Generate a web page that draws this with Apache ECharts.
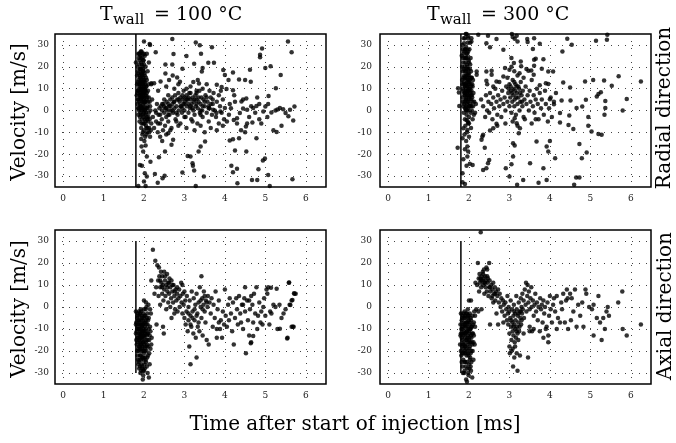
<!DOCTYPE html>
<html><head><meta charset="utf-8">
<script src="https://cdn.jsdelivr.net/npm/echarts@6/dist/echarts.min.js"></script>
<style>html,body{margin:0;padding:0;background:#fff}#c{width:676px;height:443px}</style>
</head><body><div id="c"></div>
<script>
// ---------- data ----------
const injectionTime = 1.8;
const xTicks = [0, 1, 2, 3, 4, 5, 6];
const yTicks = [-30, -20, -10, 0, 10, 20, 30];
const xRange = [-0.2, 6.5];
const yRange = [-35, 35];
const lineSpanTop = [-35, 35];
const lineSpanBottom = [-30, 30];
const panelTemps = ['100 °C', '300 °C'];
const rowLabels = ['Radial direction', 'Axial direction'];
const yName = 'Velocity [m/s]';
const xName = 'Time after start of injection [ms]';

// Radial velocity, T_wall = 100 °C
const radial100 = [
[1.80,22],[1.82,7],[1.83,12],[1.84,3],[1.85,18],[1.85,9],[1.86,26],[1.86,-2],[1.87,14],[1.87,5],[1.88,21],[1.88,10],[1.88,0],[1.89,16],[1.89,7],[1.89,-5],[1.90,26],[1.90,12],[1.90,3],[1.91,19],[1.91,8],[1.91,-1],[1.92,24],[1.92,15],[1.92,10],[1.92,5],[1.93,2],[1.93,-8],[1.93,17],[1.94,11],[1.94,6],[1.94,27],[1.95,13],[1.95,0],[1.95,21],[1.95,-4],[1.96,9],[1.96,4],[1.96,16],[1.96,-11],[1.97,26],[1.97,7],[1.97,12],[1.97,-2],[1.98,19],[1.98,2],[1.98,10],[1.98,-6],[1.99,14],[1.99,5],[1.99,23],[2.00,8],[2.00,-1],[2.00,11],[2.00,-9],[2.01,3],[2.01,17],[2.01,6],[2.02,25],[2.02,-4],[2.02,13],[2.03,9],[2.03,0],[2.03,-12],[2.04,20],[2.04,4],[2.05,7],[2.05,-7],[2.05,15],[2.06,1],[2.06,11],[2.07,-3],[2.07,26],[2.08,6],[2.08,-10],[2.09,18],[2.09,2],[2.10,-5],[2.10,9],[2.11,12],[2.12,-1],[2.12,22],[2.13,-8],[2.14,4],[2.15,-12],[2.15,30],[2.16,0],[2.18,12],[2.18,-6],[2.20,5],[1.93,-13],[1.97,-10],[2.01,-14],[2.06,-11],[1.86,1],[1.84,8],[1.90,-3],[1.94,-6],[1.99,-3],[2.04,-2],
[1.83,16],[1.84,20],[1.85,5],[1.85,13],[1.86,9],[1.86,17],[1.87,24],[1.87,1],[1.88,12],[1.88,4],[1.89,11],[1.89,23],[1.90,15],[1.90,6],[1.90,19],[1.91,2],[1.91,13],[1.91,25],[1.92,7],[1.92,19],[1.92,-2],[1.93,10],[1.93,14],[1.93,22],[1.94,1],[1.94,17],[1.94,8],[1.95,6],[1.95,16],[1.95,9],[1.96,12],[1.96,20],[1.96,1],[1.97,15],[1.97,4],[1.97,18],[1.98,8],[1.98,13],[1.98,23],[1.99,0],[1.99,9],[1.99,18],[2.00,4],[2.00,14],[2.00,21],[2.01,10],[2.01,-6],[2.01,1],[2.02,7],[2.02,16],[2.03,4],[2.03,12],[2.04,9],[2.04,-5],[2.05,11],[2.05,-1],[2.06,5],[2.06,-8],[2.07,8],[2.07,14],[2.08,1],[2.08,-4],[2.09,-8],[2.10,4],[2.11,-3],[2.12,6],[2.13,-10],[2.14,-4],[2.15,2],[2.17,-9],[2.00,26],[1.96,24],[1.92,27],[1.88,26],
[2.22,-3],[2.25,-8],[2.28,0],[2.30,-5],[2.32,3],[2.34,-10],[2.36,-2],[2.38,1],[2.40,-12],[2.40,-6],[2.42,2],[2.44,-4],[2.45,0],[2.47,-9],[2.48,3],[2.50,-1],[2.50,5],[2.52,-7],[2.53,1],[2.55,-3],[2.56,4],[2.58,0],[2.60,-5],[2.60,7],[2.62,2],[2.63,-2],[2.65,5],[2.66,0],[2.68,-8],[2.70,3],[2.70,6],[2.72,-1],[2.74,4],[2.75,1],[2.77,7],[2.78,-4],[2.80,2],[2.82,5],[2.83,-2],[2.85,8],[2.86,0],[2.88,4],[2.90,6],[2.90,-6],[2.92,2],[2.94,-1],[2.95,5],[2.97,3],[2.98,9],[3.00,0],[3.00,6],[3.02,4],[3.03,-3],[3.05,7],[3.06,2],[3.08,5],[3.10,-1],[3.10,3],[3.12,8],[3.14,1],[3.15,5],[3.17,-4],[3.18,3],[3.20,6],[3.22,0],[3.23,4],[3.25,-2],[3.27,7],[3.28,2],[3.30,5],[3.32,-6],[3.33,1],[3.35,4],[3.37,9],[3.38,-1],[3.40,3],[3.42,6],[3.44,0],[3.45,-3],[3.47,5],[3.50,2],[3.52,7],[3.55,-1],[3.57,4],[3.60,-5],[3.62,1],[3.65,6],[3.68,-2],[3.70,3],[3.72,8],[3.75,0],[3.78,-3],[3.80,4],[3.85,-6],[3.88,2],[3.92,-1],[3.95,5],[3.98,-4],
[2.45,3],[2.50,2],[2.55,1],[2.60,3],[2.65,2],[2.70,0],[2.75,4],[2.80,-1],[2.85,5],[2.90,2],[2.95,1],[3.00,3],[3.05,5],[3.10,6],[3.15,2],[3.20,1],[3.25,5],[3.30,3],[3.35,6],[3.40,0],[3.45,2],[3.50,4],[3.55,6],[3.60,2],[3.65,3],[3.70,5],[2.60,-2],[2.80,-5],[3.00,-3],[3.20,-5],[3.40,-2],[3.60,1],[2.95,7],[3.15,8],[3.30,8],[2.40,-2],[2.35,-6],[2.30,-1],
[2.35,9],[2.55,11],[2.62,14],[2.75,10],[2.85,12],[3.05,10],[3.15,11],[3.22,13],[3.30,9],[3.45,10],[3.55,12],[3.62,9],[3.85,7],[3.90,9],[2.45,-14],[2.55,-11],[2.65,-9],[2.85,-7],[3.05,-8],[3.25,-9],[3.40,-7],[3.50,-10],[3.65,-8],[3.80,-9],[3.95,-7],[4.05,-5],[4.10,-2],[4.15,1],[4.30,-6],[4.40,-9],[4.60,-3],[4.65,2],[4.75,-1],[4.85,3],[4.90,-6],[5.05,-3],[5.20,-9],[5.25,0],[5.30,0.5],[4.50,-10],[4.45,5],[4.55,-6],[4.85,-4],
[2.00,31.6],[2.14,30.4],[2.29,26.7],[2.70,32.7],[2.73,25.8],[3.28,31.1],[3.38,29.8],[3.41,26],[3.68,28.9],[3.05,24.9],[3.59,21.8],[3.73,21.8],[2.53,21.1],[2.70,21.1],[3.24,21.4],[2.95,19.1],[3.45,19.4],[3.43,17.9],[3.96,18.5],[4.00,16.2],[4.20,17.4],[4.87,25.5],[4.87,24.4],[4.92,28.4],[5.00,19.5],[5.13,20.2],[5.56,31.6],[5.65,26.6],[5.38,16.2],[4.62,18.6],[4.35,14.2],[4.50,13.9],[4.64,13.1],[4.09,13.9],[2.53,16.9],[2.71,16],[2.82,15.1],[2.89,13.1],[2.41,13.3],[2.25,12.5],[2.18,12.5],[3.33,13.9],[3.36,12.4],[3.80,11.8],[3.92,10.8],[4.04,9.8],[4.20,9.3],[4.23,7],[5.26,10.2],[4.80,6],[5.08,6.6],[4.53,5.5],[4.25,4],
[1.94,-16.5],[2.04,-16],[1.98,-18.8],[2.07,-21],[1.90,-24.9],[1.95,-25.3],[2.16,-23.4],[2.02,-28.7],[2.07,-30.2],[2.00,-32.5],[1.86,-34.5],[2.04,-34.5],[2.27,-29],[2.34,-33],[2.46,-31],[2.51,-29.9],[2.37,-21.4],[2.52,-18.8],[2.68,-15.7],[2.60,-10.4],[2.72,-13.4],[2.95,-28.4],[3.08,-20.8],[3.15,-21.1],[3.20,-24.1],[3.21,-25.3],[3.24,-27.5],[3.28,-34.5],[3.35,-18.8],[3.40,-16.5],[3.48,-30.2],[3.51,-14.2],[4.12,-13.7],[4.20,-13.1],[4.25,-18.3],[4.35,-12.7],[4.16,-25.3],[4.20,-28.2],[4.30,-26.7],[4.31,-33.3],[4.53,-18.8],[4.67,-31.8],[4.80,-31.8],[4.83,-26.9],[4.94,-22.9],[4.99,-22],[5.07,-29.5],[5.11,-34.5],[5.67,-31.5],[4.78,-12.7],[4.52,-7.3],[4.68,-5.5],[5.28,-9.8],[5.40,-7],[5.50,-1.2],[5.57,-2.6],[5.69,-4.6],[5.72,1.8],[5.61,0.3],[5.44,0.6],[5.36,1.1],[5.07,3],[5.00,1.8],[5.15,-0.9],[4.95,-0.5],[4.78,2.1],[4.70,1.1],[4.55,0.3],[4.45,0.9],[4.37,-1.2],[4.30,-3.5],[4.22,-4.3],[4.41,4.1],[4.12,3],[4.00,1.1],[3.89,-0.5],[3.79,-1.2],[3.71,0.3]
];

// Radial velocity, T_wall = 300 °C
const radial300 = [
[1.82,25],[1.83,14],[1.84,6],[1.84,30],[1.85,18],[1.85,10],[1.86,2],[1.86,22],[1.87,13],[1.87,-1],[1.88,27],[1.88,8],[1.88,16],[1.89,4],[1.89,20],[1.90,11],[1.90,33],[1.90,-4],[1.91,15],[1.91,7],[1.92,24],[1.92,1],[1.92,12],[1.93,18],[1.93,5],[1.93,29],[1.94,9],[1.94,14],[1.94,-2],[1.95,21],[1.95,3],[1.95,11],[1.96,26],[1.96,7],[1.96,16],[1.97,0],[1.97,13],[1.97,31],[1.98,9],[1.98,19],[1.98,4],[1.99,23],[1.99,12],[2.00,6],[2.00,17],[2.00,-3],[2.01,10],[2.01,28],[2.02,2],[2.02,14],[2.03,8],[2.03,21],[2.04,-1],[2.04,12],[2.05,5],[2.05,18],[2.06,9],[2.07,0],[2.07,15],[2.08,6],[2.09,-4],[2.09,11],[2.10,2],[2.11,8],[2.12,-2],[2.13,4],[2.15,-1],[2.17,3],[1.91,-7],[1.95,-10],[1.98,-6],[1.93,-14],[2.00,-12],[1.96,-21],[1.89,-11],[1.92,35],[1.98,34],[1.87,33],[2.03,31],[2.06,33],[1.85,28],[1.93,0],[1.97,-5],[2.05,-8],
[1.83,20],[1.84,12],[1.85,24],[1.85,4],[1.86,15],[1.86,9],[1.87,19],[1.87,26],[1.88,3],[1.88,12],[1.89,7],[1.89,24],[1.89,15],[1.90,1],[1.90,18],[1.90,8],[1.91,22],[1.91,11],[1.91,28],[1.92,5],[1.92,16],[1.92,9],[1.93,12],[1.93,24],[1.93,2],[1.94,19],[1.94,6],[1.94,26],[1.95,8],[1.95,15],[1.95,0],[1.96,11],[1.96,20],[1.96,4],[1.97,9],[1.97,17],[1.97,24],[1.98,1],[1.98,14],[1.98,27],[1.99,7],[1.99,16],[2.00,10],[2.00,2],[2.00,22],[2.01,13],[2.01,5],[2.02,19],[2.02,9],[2.03,3],[2.03,15],[2.04,7],[2.04,24],[2.05,11],[2.06,2],[2.06,15],[2.07,7],[2.08,12],[2.09,4],[2.10,14],
[1.72,-17],[1.73,10.2],[1.75,8.2],[1.76,2.1],[1.86,-8.1],[1.84,-12.7],[1.90,-17.7],[1.96,-16.5],[1.98,-18.8],[1.94,-25.3],[1.86,-22.3],[1.84,-28.7],[1.90,-33.6],[1.84,-32.8],[2.02,-24.4],[2.09,-24.9],[1.96,-8.9],[2.00,-5.8],[1.94,-4.3],[1.94,35],[1.98,33],[2.06,31.6],[1.88,30.8],[1.90,27.8],[1.96,27.8],
[2.23,34.7],[2.47,34.2],[2.68,32.7],[2.43,30.8],[2.52,28.9],[2.85,27.8],[3.06,35],[3.08,33.6],[3.13,32.8],[3.18,34.2],[3.20,31.6],[3.24,35.4],[3.44,32.7],[3.45,31.3],[3.61,33.1],[3.58,28.1],[3.75,30.5],[4.43,32.8],[4.54,30.1],[4.31,27],[5.14,31.9],[5.41,32.4],[5.42,34.7],[3.61,23.2],[3.65,23.7],[3.84,23.5],[3.28,22.4],[3.05,24],[3.11,21.7],[3.29,20.2],[3.00,18.6],[2.89,19.4],[2.56,18.2],[2.56,16.3],[2.43,17.9],[2.19,17.9],[2.19,16.3],[2.43,13.6],[2.68,13.3],[2.85,15.6],[3.47,18.2],[3.54,18.3],[3.61,20.5],[3.60,16.3],[3.80,19.1],[3.96,17.9],[4.08,17.9],[3.75,11.5],[3.90,12.5],[3.96,12.1],[4.33,12.8],[4.50,10.5],[4.87,13.3],[5.07,14],[5.34,13.7],[5.70,15.7],[6.25,13.3],[5.53,11.3],[5.26,8.4],[5.16,6.4],[5.20,7.5],[4.89,4.9],[4.51,4.6],[4.80,1.8],[4.66,1.1],[5.37,4.3],[5.90,5.3],[5.80,0],[5.37,1.1],[5.35,-2],[4.95,-3],[4.48,-2.3],[4.25,-1.2],[4.10,2.9],[4.00,5.2],[4.29,4.6],[4.95,-7],[5.20,-10.7],[5.03,-9.6],[5.28,-11.1],[4.73,-15.3],[4.79,-21.8],[4.91,-19.2],[4.65,-30.7],[4.73,-30.7],[4.60,-34],[4.58,-8.5],[4.46,-6.6],[4.25,-5.5],[4.13,-21.8],[3.92,-16.5],[3.96,-18.8],[4.00,-14],[3.92,-31.8],[3.84,-26.4],[3.72,-33],[3.67,-14.2],[3.51,-24.1],[3.34,-31.8],[3.19,-34],[3.09,-21.1],[3.05,-24.6],[3.00,-30.2],[2.91,-26.4],[3.09,-15],[3.13,-16],[3.23,-10.4],[3.26,-8.1],[3.18,-5.8],[3.13,-3.5],[2.50,-22.6],[2.43,-26.4],[2.47,-24.1],[2.39,-17],[2.35,-27.2],[2.31,-13.4],[2.33,-11.9],[2.35,-11.1],[2.52,-9.2],[2.60,-8.1],[2.68,-6.1],
[2.30,5],[2.35,2],[2.40,-3],[2.42,7],[2.45,0],[2.48,4],[2.50,-1],[2.52,8],[2.55,3],[2.58,-4],[2.60,6],[2.62,1],[2.65,10],[2.68,4],[2.70,-2],[2.72,7],[2.75,2],[2.78,5],[2.80,-3],[2.82,9],[2.85,3],[2.88,6],[2.90,0],[2.92,11],[2.95,4],[2.97,8],[3.00,2],[3.00,12],[3.02,6],[3.04,9],[3.05,-1],[3.07,4],[3.08,14],[3.10,7],[3.10,10],[3.12,2],[3.13,5],[3.15,12],[3.16,-2],[3.18,8],[3.20,3],[3.20,16],[3.22,6],[3.24,10],[3.25,0],[3.27,4],[3.28,13],[3.30,7],[3.32,2],[3.33,9],[3.35,-3],[3.37,5],[3.40,11],[3.42,3],[3.45,7],[3.48,0],[3.50,9],[3.52,4],[3.55,14],[3.58,2],[3.60,7],[3.62,-1],[3.65,5],[3.68,10],[3.70,3],[3.72,-4],[3.75,8],[3.78,1],[3.80,5],[3.85,-2],[3.88,9],[3.90,3],[3.95,-5],[3.98,1],[4.02,6],[4.05,-3],[4.10,4],[4.15,8],[3.05,20],[3.12,18],[2.95,15],[3.25,17],[3.35,15],[3.42,19],[2.75,13],[2.60,11],[2.45,12],[2.70,-7],[2.90,-6],[3.08,-5],[3.20,-7],[3.38,-4],[3.55,-6],[3.65,-4],
[2.98,10],[3.03,11],[3.06,8],[3.14,9],[3.17,6],[3.22,11],[3.26,8],[3.31,4],[3.12,13],[3.18,11]
];

// Axial velocity, T_wall = 100 °C
const axial100 = [
[1.80,-2],[1.80,-12],[1.81,-7],[1.82,-17],[1.83,-5],[1.83,-10],[1.84,-22],[1.84,-14],[1.85,-8],[1.85,-3],[1.86,-19],[1.86,-12],[1.87,-25],[1.87,-6],[1.88,-15],[1.88,-10],[1.88,-28],[1.89,-4],[1.89,-18],[1.90,-12],[1.90,-8],[1.90,-22],[1.91,-14],[1.91,-30],[1.92,-6],[1.92,-17],[1.92,-11],[1.93,-24],[1.93,-2],[1.93,-13],[1.94,-9],[1.94,-20],[1.95,-15],[1.95,-27],[1.95,-5],[1.96,-11],[1.96,-18],[1.97,-8],[1.97,-23],[1.97,-33],[1.98,-13],[1.98,-3],[1.98,-29],[1.99,-16],[1.99,-10],[2.00,-21],[2.00,-7],[2.00,-1],[2.01,-14],[2.01,-26],[2.02,-9],[2.02,-18],[2.03,-4],[2.03,-12],[2.04,-24],[2.04,-16],[2.05,-6],[2.05,-10],[2.06,-20],[2.06,0],[2.07,-13],[2.07,-27],[2.08,-3],[2.08,-17],[2.09,-8],[2.10,-22],[2.10,-12],[2.11,1],[2.12,-5],[2.12,-32],[2.13,-15],[2.14,-26],[2.15,-9],[2.16,-19],[2.17,-3],[2.18,-17],[2.00,3],[2.05,2],[1.98,-31],[1.93,-29],[2.09,-30],[1.86,-26],[2.02,-28],
[1.80,-8],[1.81,-15],[1.82,-11],[1.83,-20],[1.84,-4],[1.84,-9],[1.85,-16],[1.85,-24],[1.86,-6],[1.86,-14],[1.87,-10],[1.87,-20],[1.88,-2],[1.88,-18],[1.89,-13],[1.89,-7],[1.89,-24],[1.90,-16],[1.90,-3],[1.90,-27],[1.91,-10],[1.91,-19],[1.92,-14],[1.92,-22],[1.92,-1],[1.93,-8],[1.93,-17],[1.94,-12],[1.94,-26],[1.94,-4],[1.95,-19],[1.95,-9],[1.96,-14],[1.96,-23],[1.96,-6],[1.97,-11],[1.97,-16],[1.97,-28],[1.98,-8],[1.98,-20],[1.99,-13],[1.99,-24],[1.99,-5],[2.00,-11],[2.00,-17],[2.00,-29],[2.01,-4],[2.01,-20],[2.02,-13],[2.02,-23],[2.03,-7],[2.03,-19],[2.04,-11],[2.04,-1],[2.05,-15],[2.05,-25],[2.06,-8],[2.07,-18],[2.07,-5],[2.08,-12],[2.08,-23],[2.09,-15],[2.10,-6],[2.11,-18],[2.12,-10],[2.13,-21],[2.14,-13],[2.15,-1],[2.16,-11],[2.19,-14],
[2.18,12],[2.22,26],[2.26,6],[2.28,21],[2.30,9],[2.31,-8],[2.33,19],[2.35,12],[2.36,5],[2.37,18],[2.38,14],[2.40,9],[2.40,1],[2.42,16],[2.43,11],[2.45,6],[2.45,14],[2.47,-9],[2.47,10],[2.48,3],[2.49,-12],[2.50,16],[2.50,8],[2.52,12],[2.53,5],[2.55,10],[2.55,-1],[2.57,15],[2.58,7],[2.60,11],[2.60,2],[2.62,6],[2.63,13],[2.65,9],[2.65,0],[2.67,4],[2.68,12],[2.70,7],[2.72,2],[2.73,10],[2.75,5],[2.77,-1],[2.78,8],[2.80,3],[2.82,6],[2.83,-2],[2.85,4],[2.87,8],[2.88,0],[2.90,5],[2.92,11],[2.93,2],[2.95,-3],[2.96,6],[2.98,1],[3.00,-5],[3.02,3],[3.03,-8],[3.05,-2],[3.06,5],[3.08,-11],[3.10,0],[3.10,-6],[3.12,-18],[3.13,3],[3.15,-4],[3.15,-26],[3.17,-9],[3.18,7],[3.20,-2],[3.22,-12],[3.23,4],[3.25,-6],[3.27,1],[3.28,-14],[3.30,-23],[3.30,6],[3.32,-3],[3.33,-9],[3.35,2],[3.37,-11],[3.38,9],[3.40,0],[3.42,-5],[3.42,14],[3.44,4],[3.45,-13],[3.47,1],[3.48,7],[3.50,-2],[3.52,-7],[3.53,3],[3.55,-15],[3.57,0],[3.58,5],[3.60,-17],[3.62,2],[3.65,-3],[3.67,4],[3.70,-9],[3.72,1],[3.75,-5],[3.77,7],[3.80,-14],[3.82,-1],[3.85,3],[3.88,-10],[3.90,-6],[3.93,-14],[3.95,-2],[3.98,-8],[4.00,8],[4.02,-4],[4.05,-9],[4.08,1],[4.10,-6],[4.12,4],[4.15,-3],[4.18,-11],[4.20,2],[4.22,-17],[4.25,-5],[4.28,4],[4.30,-1],[4.32,-8],[4.35,5],[4.38,-3],[4.40,-7],[4.42,1],[4.45,-10],[4.48,4],[4.50,9],[4.50,-2],[4.52,-21],[4.55,3],[4.57,-6],[4.60,-13],[4.62,-1],[4.65,-16],[4.65,5],[4.68,1],[4.70,-7],[4.72,6],[4.75,-3],[4.78,9],[4.80,-10],[4.82,-4],[4.85,2],[4.88,-7],[4.90,-2],[4.93,-8],[4.95,0],[4.97,4],[5.00,-4],[5.03,8],[5.05,6],[5.07,9],[5.10,-8],[5.12,-2],[5.20,1],[5.30,-10],[5.35,1],[5.40,-5],[5.45,-3],[5.50,-1],[5.55,-14],[5.58,11],[5.60,1],[5.65,3],[5.68,-9],[5.70,-9],[5.72,6],[5.75,6],[5.15,-3],[5.25,0],[2.75,-3],[2.68,-5],[3.00,7],[2.95,10],[3.80,-10],[3.85,-7],[4.45,1],[4.60,3],[5.59,11.1],[5.71,6.2],[5.67,3.2],[5.62,0.9],[5.54,-14.3],[5.65,-9],[5.36,-9.9],[4.64,-16.5],[4.70,-13.2],[5.28,8.3],[5.14,8.8],
[2.40,12],[2.45,9],[2.52,14],[2.58,9],[2.62,11],[2.70,10],[2.76,7],[2.82,9],[3.10,-3],[3.15,-8],[3.20,-5],[3.25,-1],[3.30,-4],[3.35,-7],[3.40,3],[3.45,-1],[3.50,5],[3.55,2]
];

// Axial velocity, T_wall = 300 °C
const axial300 = [
[1.78,-17],[1.79,-8],[1.80,-12],[1.80,-3],[1.81,-22],[1.82,-6],[1.82,-14],[1.83,-10],[1.84,-27],[1.84,-18],[1.85,-4],[1.85,-9],[1.86,-13],[1.86,-24],[1.87,-7],[1.87,-16],[1.88,-30],[1.88,-11],[1.89,-2],[1.89,-20],[1.90,-8],[1.90,-14],[1.91,-25],[1.91,-5],[1.92,-12],[1.92,-18],[1.93,-33],[1.93,-9],[1.94,-15],[1.94,-22],[1.95,-3],[1.95,-11],[1.96,-28],[1.96,-7],[1.97,-17],[1.97,-13],[1.98,-21],[1.98,-5],[1.99,-10],[1.99,-31],[2.00,-15],[2.00,-26],[2.01,-8],[2.01,-19],[2.02,-12],[2.02,-3],[2.03,-23],[2.03,-16],[2.04,-10],[2.05,-29],[2.05,-6],[2.06,-14],[2.06,-20],[2.07,-9],[2.08,-32],[2.08,-17],[2.09,-4],[2.10,-12],[2.11,-16],[2.12,-7],[2.13,-2],[2.00,3],[2.05,3],[1.95,-34],[1.89,-29],[2.02,-24],[1.97,-1],[1.86,-19],[2.04,-27],
[1.79,-13],[1.80,-20],[1.81,-10],[1.82,-25],[1.83,-15],[1.83,-5],[1.84,-12],[1.84,-21],[1.85,-17],[1.85,-30],[1.86,-8],[1.86,-3],[1.87,-21],[1.87,-12],[1.88,-5],[1.88,-17],[1.89,-9],[1.89,-25],[1.90,-18],[1.90,-4],[1.91,-12],[1.91,-21],[1.92,-7],[1.92,-27],[1.93,-15],[1.93,-3],[1.94,-11],[1.94,-19],[1.95,-7],[1.95,-25],[1.96,-14],[1.96,-20],[1.97,-4],[1.97,-9],[1.98,-16],[1.98,-30],[1.99,-6],[1.99,-22],[2.00,-11],[2.00,-4],[2.01,-14],[2.01,-28],[2.02,-7],[2.02,-18],[2.03,-10],[2.04,-21],[2.04,-5],[2.05,-13],[2.06,-25],[2.06,-9],[2.07,-16],[2.08,-12],[2.09,-20],[2.10,-8],[2.11,-24],[2.12,-13],[2.14,-17],[2.15,-9],
[2.15,-4],[2.16,11],[2.18,-1],[2.20,10],[2.22,20],[2.23,-2],[2.24,13],[2.25,7],[2.26,15],[2.27,11],[2.28,13],[2.29,34],[2.30,9],[2.31,-1],[2.31,14],[2.33,12],[2.34,16],[2.35,10],[2.36,13],[2.37,17],[2.38,11],[2.38,6],[2.40,14],[2.41,9],[2.42,12],[2.43,18],[2.44,7],[2.45,17],[2.46,11],[2.47,13],[2.48,5],[2.50,20],[2.50,9],[2.51,12],[2.52,-8],[2.53,7],[2.55,10],[2.56,4],[2.58,8],[2.60,11],[2.60,2],[2.62,6],[2.64,9],[2.65,3],[2.67,7],[2.68,-3],[2.70,5],[2.72,8],[2.72,-8],[2.74,2],[2.76,6],[2.78,0],[2.80,4],[2.82,-2],[2.84,3],[2.86,1],[2.88,-4],[2.90,2],[2.92,-1],[2.94,-6],[2.95,5],[2.96,-3],
[2.97,-8],[2.98,0],[3.00,-2],[3.00,-12],[3.01,-21],[3.02,-5],[3.03,3],[3.04,-9],[3.05,-15],[3.05,-20],[3.06,-1],[3.07,-7],[3.08,-11],[3.09,-27],[3.10,-4],[3.10,-13],[3.11,1],[3.12,-8],[3.13,-16],[3.14,-3],[3.15,-10],[3.15,-6],[3.16,-14],[3.17,5],[3.18,-21],[3.18,-1],[3.19,-9],[3.20,-12],[3.20,-29],[3.21,-4],[3.22,-7],[3.23,2],[3.24,-11],[3.25,-2],[3.26,-22],[3.27,-5],[3.28,4],[3.29,-8],[3.30,0],[3.31,-3],[3.32,6],[3.33,-1],[3.35,3],[3.36,-5],[3.38,8],[3.40,1],[3.41,11],[3.42,-2],[3.44,5],[3.45,10],[3.46,-23],[3.47,2],[3.48,7],[3.50,-9],[3.50,-1],[3.52,4],[3.54,9],[3.55,0],[3.56,-11],[3.58,3],[3.60,-4],[3.62,1],[3.64,6],[3.66,-2],[3.68,2],[3.70,-6],[3.72,0],[3.75,-11],[3.76,4],[3.78,-1],[3.80,1],[3.82,-7],[3.84,-14],[3.84,3],[3.86,-3],[3.88,0],[3.90,-10],[3.92,-9],[3.94,2],[3.96,-16],[3.96,-13],[3.98,-4],[4.00,5],[4.02,-1],[4.05,-7],[4.08,1],[4.10,4],[4.13,-2],[4.17,5],[4.17,-10],[4.20,-5],[4.25,-7],[4.28,2],[4.30,-1],[4.33,6],[4.37,-7],[4.40,3],[4.42,8],[4.44,4],[4.45,-10],[4.50,6],[4.52,-6],[4.54,4],[4.58,-2],[4.62,8],[4.66,-9],[4.70,1],[4.75,-4],[4.80,2],[4.83,-9],[4.88,8],[4.90,6],[4.97,0],[5.04,-1],[5.08,-13],[5.08,1],[5.16,-5],[5.20,5],[5.24,-7],[5.28,-15],[5.32,-5],[5.36,-10],[5.40,-2],[5.43,0],[5.46,-4],[5.69,2],[5.79,7],[5.80,-10],[5.90,-13],[6.25,-8],[2.85,-7],[3.00,-18],[3.12,-23],[3.08,-19],[3.22,-15],[3.14,-18],[3.60,-10],[3.50,-11],[3.35,-12],
[2.30,12],[2.35,15],[2.40,11],[2.45,14],[2.52,9],[2.58,5],[2.65,6],[3.05,-6],[3.10,-9],[3.12,-2],[3.18,-11],[3.22,-3],[3.25,-9],[3.28,-2],[3.30,-6]
];

// ---------- chart ----------
const panels = [
  { data: radial100, left: 55,  top: 34,  height: 153, span: lineSpanTop,    labMargin: 6 },
  { data: radial300, left: 380, top: 34,  height: 153, span: lineSpanTop,    labMargin: 8 },
  { data: axial100,  left: 55,  top: 230, height: 154, span: lineSpanBottom, labMargin: 6 },
  { data: axial300,  left: 380, top: 230, height: 154, span: lineSpanBottom, labMargin: 8 }
];
const tickFont = { fontFamily: 'DejaVu Serif', fontSize: 9, color: '#222' };
const dotted = { color: '#444', width: 1, type: [1, 6] };
const serif = '"DejaVu Serif"';

function txt(x, y, text, size, extra) {
  return Object.assign({ type: 'text', x: x, y: y,
    style: { text: text, font: size + 'px ' + serif, fill: '#000', verticalAlign: 'middle', textVerticalAlign: 'middle' } }, extra || {});
}
function ctxt(x, y, text, size, rot) {
  const t = txt(x, y, text, size, rot ? { rotation: rot } : null);
  t.style.align = 'center'; t.style.textAlign = 'center';
  return t;
}

const option = {
  animation: false,
  backgroundColor: '#fff',
  grid: panels.map(p => ({ left: p.left, top: p.top, width: 271, height: p.height,
    show: true, borderColor: '#000', borderWidth: 1.5, backgroundColor: 'transparent', containLabel: false })),
  xAxis: panels.map((p, i) => ({
    type: 'value', gridIndex: i, min: xRange[0], max: xRange[1], splitNumber: 7,
    axisLine: { show: false }, axisTick: { show: false },
    axisLabel: Object.assign({ margin: 7, showMinLabel: false, showMaxLabel: false,
      formatter: v => xTicks.includes(Math.round(v * 1000) / 1000) ? String(v) : '' }, tickFont),
    splitLine: { show: true, showMinLine: false, showMaxLine: false, lineStyle: dotted }
  })),
  yAxis: panels.map((p, i) => ({
    type: 'value', gridIndex: i, min: yRange[0], max: yRange[1], splitNumber: 7,
    axisLine: { show: false }, axisTick: { show: false },
    axisLabel: Object.assign({ margin: p.labMargin, showMinLabel: false, showMaxLabel: false,
      formatter: v => yTicks.includes(v) ? String(v) : '' }, tickFont),
    splitLine: { show: true, showMinLine: false, showMaxLine: false, lineStyle: dotted }
  })),
  series: panels.flatMap((p, i) => [
    { type: 'line', xAxisIndex: i, yAxisIndex: i, symbol: 'none', silent: true, z: 3,
      data: [[injectionTime, p.span[0]], [injectionTime, p.span[1]]],
      lineStyle: { color: '#000', width: 1.5 } },
    { type: 'scatter', xAxisIndex: i, yAxisIndex: i, symbolSize: 4.5, clip: true, z: 4,
      itemStyle: { color: '#000' }, data: p.data }
  ]),
  graphic: [
    txt(100, 15, 'T', 19), txt(113, 20, 'wall', 15), txt(154, 15, '= ' + panelTemps[0], 19),
    txt(427, 15, 'T', 19), txt(440, 20, 'wall', 15), txt(481, 15, '= ' + panelTemps[1], 19),
    ctxt(20, 112, yName, 20, Math.PI / 2),
    ctxt(20, 309, yName, 20, Math.PI / 2),
    ctxt(665, 108, rowLabels[0], 20, Math.PI / 2),
    ctxt(666, 306, rowLabels[1], 20, Math.PI / 2),
    ctxt(355, 425, xName, 20)
  ]
};
const chart = echarts.init(document.getElementById('c'), null, { renderer: 'canvas' });
chart.setOption(option);
</script>
</body></html>
